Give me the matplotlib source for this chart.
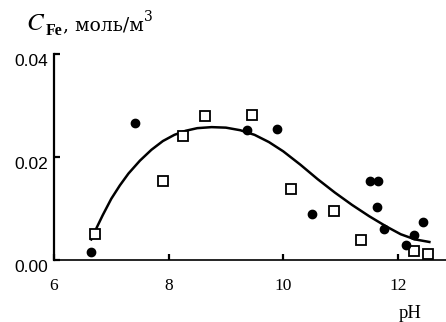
import matplotlib
matplotlib.use("Agg")
import matplotlib.pyplot as plt
import matplotlib.transforms as mtransforms

# Data
circle_ph = [6.65, 7.41, 9.37, 9.89, 10.50, 11.51, 11.65, 11.64, 11.76, 12.14, 12.28, 12.44]
circle_c = [0.0016, 0.0266, 0.0252, 0.0254, 0.0089, 0.0153, 0.0153, 0.0103, 0.0060, 0.0029, 0.0049, 0.0074]

square_ph = [6.72, 7.90, 8.25, 8.64, 9.46, 10.14, 10.89, 11.36, 12.28, 12.53]
square_c = [0.0050, 0.0153, 0.0241, 0.0280, 0.0282, 0.0138, 0.0095, 0.0039, 0.0017, 0.0012]

curve_ph = [6.65, 6.75, 6.85, 7.0, 7.15, 7.3, 7.5, 7.7, 7.9, 8.1, 8.3, 8.5, 8.75, 9.0, 9.25,
            9.5, 9.75, 10.0, 10.3, 10.6, 10.9, 11.2, 11.5, 11.8, 12.05, 12.3, 12.55]
curve_c = [0.0040, 0.0064, 0.0087, 0.0119, 0.0145, 0.0168, 0.0193, 0.0214, 0.0231, 0.0243, 0.0251,
           0.0256, 0.0258, 0.0257, 0.0252, 0.0243, 0.0229, 0.0211, 0.0185, 0.0157, 0.0131,
           0.0107, 0.0085, 0.0065, 0.0050, 0.0040, 0.0035]

x_ticks = [6, 8, 10, 12]
x_labels = ["6", "8", "10", "12"]
y_ticks = [0.0, 0.02, 0.04]
y_labels = ["0.00", "0.02", "0.04"]

plt.rcParams['mathtext.fontset'] = 'stix'

fig = plt.figure(figsize=(4.46, 3.22), dpi=100)
ax = fig.add_axes([54/446, (322-260)/322, (446-54)/446, (260-54)/322])

ax.plot(curve_ph, curve_c, color='black', lw=1.8, zorder=2, solid_joinstyle='round')
ax.plot(square_ph, square_c, ls='none', marker='s', ms=7.2, mfc='white', mec='black', mew=1.3, zorder=3)
ax.plot(circle_ph, circle_c, ls='none', marker='o', ms=6.0, mfc='black', mec='black', zorder=4)

ax.set_xlim(6, 12.84)
ax.set_ylim(0, 0.04)

for s in ['top', 'right']:
    ax.spines[s].set_visible(False)
ax.spines['left'].set_linewidth(1.6)
ax.spines['bottom'].set_linewidth(1.2)

ax.set_xticks(x_ticks)
ax.set_xticklabels(x_labels, family='Liberation Serif', fontsize=12.5)
ax.set_yticks(y_ticks)
ax.set_yticklabels(y_labels, family='Liberation Sans', fontsize=12.5)
ax.tick_params(axis='x', direction='in', length=4, width=1.6, pad=13)
ax.tick_params(axis='y', direction='in', length=4, width=1.6, pad=4)

offset = mtransforms.ScaledTranslation(0, -6/100, fig.dpi_scale_trans)
for lab in ax.get_yticklabels():
    lab.set_transform(lab.get_transform() + offset)

# Title pieces chained left to right
renderer = fig.canvas.get_renderer()
base_y = 322 - 30  # baseline in pixels from bottom
pieces = [
    ("$C$", dict(fontsize=18), 0),
    ("Fe", dict(family='Liberation Serif', fontweight='bold', fontsize=11.5), -5),
    (", моль/м", dict(family='DejaVu Serif', fontsize=13.5), 0),
    ("3", dict(family='DejaVu Serif', fontsize=10), 9),
]
x_px = 26
for txt, kw, dy in pieces:
    t = fig.text(x_px/446, (base_y + dy)/322, txt, ha='left', va='baseline', **kw)
    bb = t.get_window_extent(renderer)
    x_px = bb.x1 + 0.5

fig.text(410/446, (322-313)/322, "pH", family='Liberation Serif', fontsize=13.5,
         ha='center', va='center')

fig.savefig("out.png", dpi=100)
